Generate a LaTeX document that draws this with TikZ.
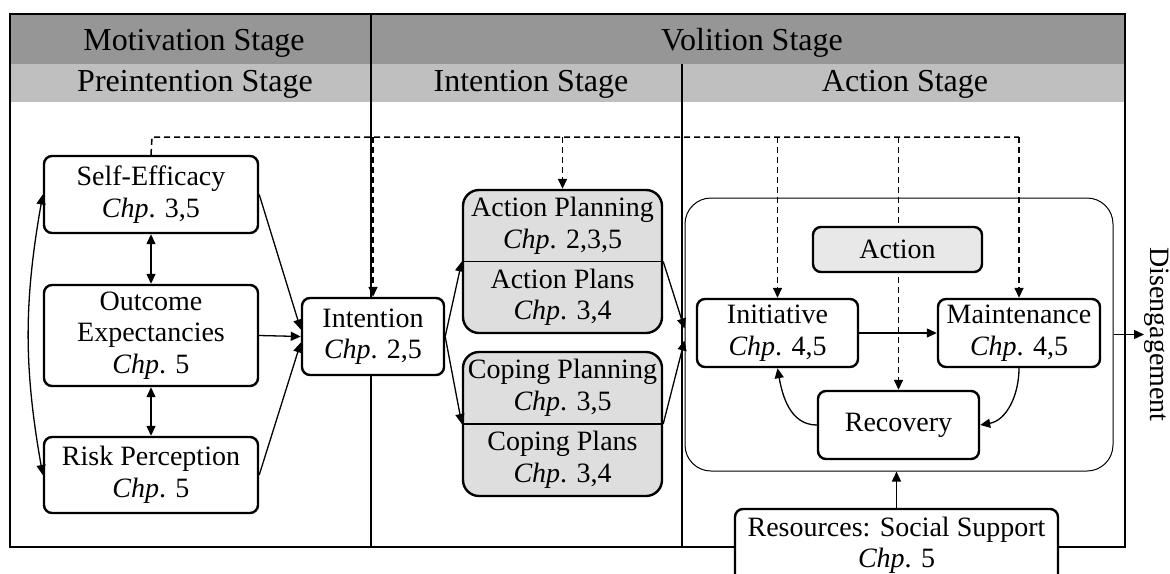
\documentclass[tikz,border=0pt]{standalone}
\usepackage{fontspec}
\setmainfont{Liberation Serif}
\usetikzlibrary{arrows.meta,calc}
\definecolor{hdark}{gray}{0.59}
\definecolor{hlight}{gray}{0.75}
\definecolor{planfill}{gray}{0.87}
\definecolor{actfill}{gray}{0.91}
\newcommand\chp[1]{\textit{Chp}. #1}
\begin{document}
\begin{tikzpicture}[x=1pt,y=1pt,
 box/.style={draw, line width=2.4pt, rounded corners=8pt, fill=white, align=center, inner sep=0pt, font=\fontsize{28}{31.5}\selectfont},
 planbox/.style={draw, line width=2.4pt, rounded corners=16pt, fill=planfill, inner sep=0pt},
 bigbox/.style={draw, line width=1pt, rounded corners=26pt, inner sep=0pt},
 txt/.style={align=center, inner sep=0pt, font=\fontsize{28}{31.5}\selectfont},
 hdr/.style={anchor=base, inner sep=0pt, font=\fontsize{32}{36}\selectfont},
 arr/.style={line width=1.3pt, -{Triangle[length=10pt,width=9pt]}},
 darr/.style={line width=1.3pt, {Triangle[length=10pt,width=9pt]}-{Triangle[length=10pt,width=9pt]}},
 dsh/.style={line width=1.5pt, dash pattern=on 6pt off 4pt},
 dsharr/.style={dsh, -{Triangle[length=10pt,width=9pt]}},
]
\useasboundingbox (0,0) rectangle (1170,-573);
\clip (0,0) rectangle (1170,-573);
% header bands and frame
\fill[hdark] (10,-14) rectangle (1125,-64);
\fill[hlight] (10,-64) rectangle (1125,-102);
\draw[line width=2.8pt] (10,-14) rectangle (1125,-547);
\draw[line width=2.4pt] (371,-14) -- (371,-547);
\draw[line width=2.4pt] (682,-64) -- (682,-547);
\node[hdr] (hmot) at (194,-50) {Motivation Stage};
\node[hdr] (hvol) at (752,-50) {Volition Stage};
\node[hdr] (hpre) at (195,-91) {Preintention Stage};
\node[hdr] (hint) at (531,-91) {Intention Stage};
\node[hdr] (hact) at (905,-91) {Action Stage};

% left column
\node[box, minimum width=214pt, minimum height=77pt] (se) at (151,-194.5) {Self-Efficacy\\\chp{3,5}};
\node[box, minimum width=214pt, minimum height=101pt] (oe) at (151,-335.5) {Outcome\\Expectancies\\\chp{5}};
\node[box, minimum width=214pt, minimum height=76pt] (rp) at (151,-475) {Risk Perception\\\chp{5}};
\node[box, minimum width=142pt, minimum height=77pt] (in) at (373,-336.5) {Intention\\\chp{2,5}};

% planning boxes
\node[planbox, minimum width=199pt, minimum height=143pt] (ap) at (562.5,-261.5) {};
\draw[line width=1.5pt] (ap.west) -- (ap.east);
\node[txt] (apt) at (562.5,-226) {Action Planning\\\chp{2,3,5}};
\node[txt] (apb) at (562.5,-297.5) {Action Plans\\\chp{3,4}};
\node[planbox, minimum width=199pt, minimum height=144pt] (cp) at (562.5,-424) {};
\draw[line width=1.5pt] (cp.west) -- (cp.east);
\node[txt] (cpt) at (562.5,-388) {Coping Planning\\\chp{3,5}};
\node[txt] (cpb) at (562.5,-460) {Coping Plans\\\chp{3,4}};

% action stage
\node[bigbox, minimum width=428pt, minimum height=273pt] (act) at (899,-334.5) {};
\node[box, minimum width=161pt, minimum height=68pt] (ini) at (777.5,-333) {Initiative\\\chp{4,5}};
\node[box, minimum width=162pt, minimum height=68pt] (mnt) at (1019,-333) {Maintenance\\\chp{4,5}};
\node[box, minimum width=161pt, minimum height=68pt] (rec) at (898.5,-425) {Recovery};
\node[box, minimum width=323pt, minimum height=73pt] (res) at (896.5,-545.5) {Resources: Social Support\\\chp{5}};
\node[txt, rotate=-90, anchor=south] (dis) at (1144,-334.5) {Disengagement};

% dashed feedback from self-efficacy
\coordinate (dtop) at (152,-137);
\draw[dsh] (se.north) -- (dtop) -- (dtop -| mnt.north);
\draw[dsharr] (in.north |- dtop) -- (in.north);
\draw[dsharr] (ap.north |- dtop) -- (ap.north);
\draw[dsharr] (ini.north |- dtop) -- (ini.north);
\draw[dsharr] (rec.north |- dtop) -- (rec.north);
\draw[dsharr] (mnt.north |- dtop) -- (mnt.north);
\node[box, fill=actfill, minimum width=169pt, minimum height=45pt] (acn) at (897.5,-249.5) {Action};

% solid connectors
\draw[darr] (se.south) -- (oe.north);
\draw[darr] (oe.south) -- (rp.north);
\draw[darr] (se.west) to[bend right=10] (rp.west);
\draw[arr] (se.east) -- ($(in.west)+(0,7)$);
\draw[arr] (oe.east) -- (in.west);
\draw[arr] (rp.east) -- ($(in.west)+(0,-6)$);
\draw[arr] (in.east) -- (ap.west);
\draw[arr] (in.east) -- (cp.west);
\draw[arr] (ap.east) -- ($(act.west)+(0,6)$);
\draw[arr] (cp.east) -- ($(act.west)+(0,-6)$);
\draw[arr] (ini.east) -- (mnt.west);
\draw[arr] (rec.west) to[out=180,in=-80] (ini.south);
\draw[arr] (mnt.south) to[out=-90,in=10] (rec.east);
\draw[arr] (res.north) -- (res.north |- act.south);
\draw[arr] (act.east) -- (dis.south);
\end{tikzpicture}
\end{document}
